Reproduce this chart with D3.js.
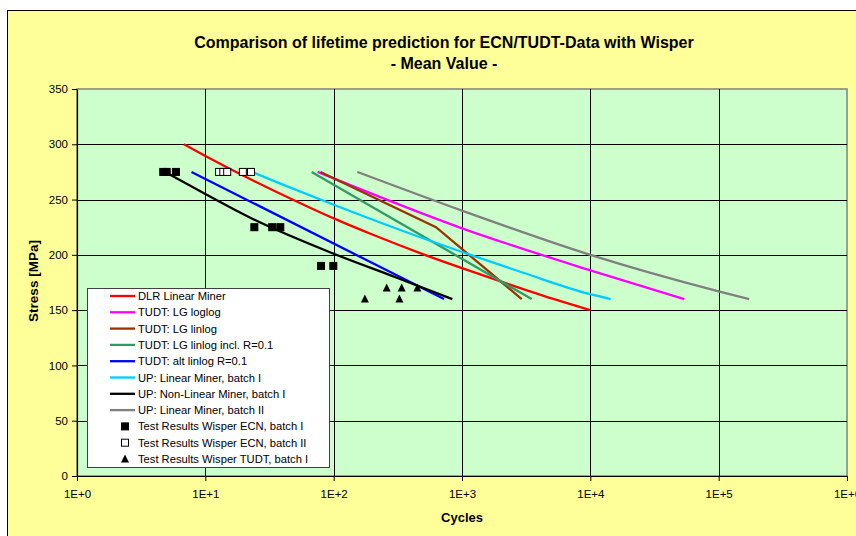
<!DOCTYPE html>
<html><head><meta charset="utf-8">
<script src="https://cdn.jsdelivr.net/npm/d3@7"></script>
<style>body{margin:0;background:#fff}svg{display:block}text{font-family:"Liberation Sans",Arial,sans-serif}</style>
</head><body>
<svg id="c" width="856" height="536"></svg>
<script>
const xTicks = [1, 10, 100, 1000, 10000, 100000, 1000000];
const xTickLabels = ["1E+0","1E+1","1E+2","1E+3","1E+4","1E+5","1E+6"];
const yTicks = [0, 50, 100, 150, 200, 250, 300, 350];

const dlrLinear = [[6.8,300],[10,289.5],[20,271.4],[50,249],[100,233],[200,218.4],[500,200.5],[1000,188],[2000,176],[5000,160.6],[10000,150]];
const tudtLoglog = [[75,275],[1000,224],[10000,186],[54000,160]];
const tudtLinlog = [[79,275],[627,225],[2920,160]];
const tudtLinlogR = [[67.4,275],[3490,160]];
const tudtAltLinlog = [[7.8,275],[724,160]];
const upLinear1 = [[23,275],[38,264.6],[100,245.3],[300,224.3],[1000,202.6],[3000,183.8],[10000,164.4],[14400,160]];
const upNonLinear1 = [[4.85,275],[10,255],[22,234],[100,201],[300,180],[841,160]];
const upLinear2 = [[153,275],[1000,240],[10000,200],[100000,167],[173000,160]];

const ecnBatch1 = [[4.7,275],[5.0,275],[5.9,275],[24.1,225],[33.2,225],[38.4,225],[79.7,190],[99.4,190]];
const ecnBatch2 = [[12.8,275],[13.8,275],[14.8,275],[19.6,275],[22.7,275]];
const tudtBatch1 = [[175,160],[325,160],[259,170],[339,170],[449,170]];

const lineSeries = [
  {name:"DLR Linear Miner", data:dlrLinear, color:"#FF0000", smooth:true},
  {name:"TUDT: LG loglog", data:tudtLoglog, color:"#FF00FF", smooth:true},
  {name:"TUDT: LG linlog", data:tudtLinlog, color:"#993300", smooth:false},
  {name:"TUDT: LG linlog incl. R=0.1", data:tudtLinlogR, color:"#339966", smooth:false},
  {name:"TUDT: alt linlog R=0.1", data:tudtAltLinlog, color:"#0000FF", smooth:false},
  {name:"UP: Linear Miner, batch I", data:upLinear1, color:"#00CCFF", smooth:true},
  {name:"UP: Non-Linear Miner, batch I", data:upNonLinear1, color:"#000000", smooth:true},
  {name:"UP: Linear Miner, batch II", data:upLinear2, color:"#808080", smooth:true}
];
const pointSeries = [
  {name:"Test Results Wisper ECN, batch I", data:ecnBatch1, type:"fsq"},
  {name:"Test Results Wisper ECN, batch II", data:ecnBatch2, type:"osq"},
  {name:"Test Results Wisper TUDT, batch I", data:tudtBatch1, type:"tri"}
];

const svg = d3.select("#c");
const L=77, R=847, T=89, B=476;
const x = d3.scaleLog().domain([1,1e6]).range([L,R]);
const y = d3.scaleLinear().domain([0,350]).range([B,T]);

// chart area
svg.append("rect").attr("x",7.5).attr("y",10.5).attr("width",860).attr("height",540)
  .attr("fill","#FFFF99").attr("stroke","#000").attr("stroke-width",1);
// plot area
svg.append("rect").attr("x",L).attr("y",T).attr("width",R-L).attr("height",B-T)
  .attr("fill","#CCFFCC").attr("stroke","#808080").attr("stroke-width",1.5);

// grid
const g = svg.append("g").attr("shape-rendering","crispEdges");
g.selectAll(".vg").data(xTicks.slice(1,-1)).join("line")
  .attr("x1",d=>Math.round(x(d))+0.5).attr("x2",d=>Math.round(x(d))+0.5)
  .attr("y1",T).attr("y2",B).attr("stroke","#000");
g.selectAll(".hg").data(yTicks.slice(1,-1)).join("line")
  .attr("y1",d=>Math.round(y(d))+0.5).attr("y2",d=>Math.round(y(d))+0.5)
  .attr("x1",L).attr("x2",R).attr("stroke","#000");

// axes
const xAxis = d3.axisBottom(x).tickValues(xTicks).tickFormat((d,i)=>xTickLabels[i]).tickSize(5).tickSizeOuter(0);
const yAxis = d3.axisLeft(y).tickValues(yTicks).tickSize(5).tickSizeOuter(0);
const gx = svg.append("g").attr("transform",`translate(0,${B})`).call(xAxis);
const gy = svg.append("g").attr("transform",`translate(${L},0)`).call(yAxis);
[gx,gy].forEach(a=>{
  a.select(".domain").attr("stroke","#000").attr("stroke-width",1.2);
  a.selectAll(".tick line").attr("stroke","#000");
  a.selectAll(".tick text").attr("fill","#000").style("font-size","11.5px").style("font-family",'"Liberation Sans",Arial,sans-serif');
});
gx.selectAll(".tick text").attr("dy","1.2em");
gy.selectAll(".tick text").attr("x",-9);

// titles
svg.append("text").attr("x",444).attr("y",48).attr("text-anchor","middle")
  .style("font-size","16px").style("font-weight","bold").text("Comparison of lifetime prediction for ECN/TUDT-Data with Wisper");
svg.append("text").attr("x",444).attr("y",69).attr("text-anchor","middle")
  .style("font-size","16px").style("font-weight","bold").text("- Mean Value -");
svg.append("text").attr("x",462).attr("y",522).attr("text-anchor","middle")
  .style("font-size","13px").style("font-weight","bold").text("Cycles");
svg.append("text").attr("transform","translate(38,281) rotate(-90)").attr("text-anchor","middle")
  .style("font-size","13.5px").style("font-weight","bold").text("Stress [MPa]");

// lines
svg.append("clipPath").attr("id","pc").append("rect").attr("x",L).attr("y",T).attr("width",R-L).attr("height",B-T);
const pg = svg.append("g").attr("clip-path","url(#pc)");
lineSeries.forEach(s=>{
  const ln = d3.line().x(d=>x(d[0])).y(d=>y(d[1])).curve(s.smooth?d3.curveMonotoneX:d3.curveLinear);
  pg.append("path").attr("d",ln(s.data)).attr("fill","none").attr("stroke",s.color).attr("stroke-width",2.3);
});

function marker(sel, type, cx, cy){
  if(type==="tri"){
    sel.append("path").attr("d",`M${cx},${cy-4.5}L${cx+4},${cy+3.5}L${cx-4},${cy+3.5}Z`).attr("fill","#000");
  } else {
    sel.append("rect").attr("x",cx-3.5).attr("y",cy-3.5).attr("width",7).attr("height",7)
      .attr("fill",type==="fsq"?"#000":"#fff").attr("stroke","#000").attr("stroke-width",1);
  }
}
pointSeries.forEach(s=>{
  s.data.forEach(d=>marker(pg, s.type, x(d[0]), y(d[1])));
});

// legend
const lg = svg.append("g");
lg.append("rect").attr("x",87.5).attr("y",288.5).attr("width",242).attr("height",179)
  .attr("fill","#fff").attr("stroke","#404040").attr("stroke-width",1);
const items = lineSeries.map(s=>({name:s.name,color:s.color,kind:"line"}))
  .concat(pointSeries.map(s=>({name:s.name,kind:s.type})));
items.forEach((it,i)=>{
  const yy = 296 + i*16.3;
  if(it.kind==="line"){
    lg.append("line").attr("x1",110).attr("x2",135).attr("y1",yy).attr("y2",yy).attr("stroke",it.color).attr("stroke-width",2.3);
  } else {
    marker(lg, it.kind, 125, yy);
  }
  lg.append("text").attr("x",138).attr("y",yy+4).style("font-size","11.2px").text(it.name);
});
</script>
</body></html>
